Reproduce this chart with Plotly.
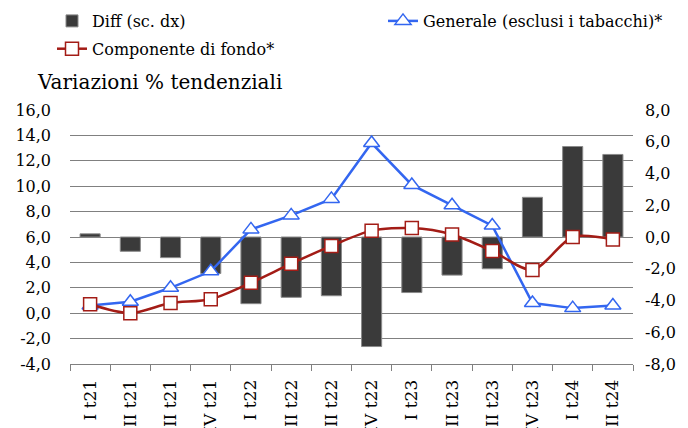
import plotly.graph_objects as go

# quarters on the x axis
categories = [
    "I t21", "II t21", "III t21", "IV t21",
    "I t22", "II t22", "III t22", "IV t22",
    "I t23", "II t23", "III t23", "IV t23",
    "I t24", "II t24",
]

# % changes, left scale
generale = [0.6, 0.9, 2.0, 3.3, 6.6, 7.7, 9.0, 13.4, 10.1, 8.5, 6.9, 0.8, 0.4, 0.6]
componente = [0.7, 0.0, 0.8, 1.1, 2.4, 3.9, 5.3, 6.5, 6.7, 6.2, 4.9, 3.4, 6.0, 5.8]

# difference, right scale
diff = [0.2, -0.9, -1.3, -2.3, -4.2, -3.8, -3.7, -6.9, -3.5, -2.4, -2.0, 2.5, 5.7, 5.2]

# axis ticks (italian decimal comma)
left_ticks = [-4, -2, 0, 2, 4, 6, 8, 10, 12, 14, 16]
right_ticks = [-8, -6, -4, -2, 0, 2, 4, 6, 8]
left_labels = [f"{v:.1f}".replace(".", ",") for v in left_ticks]
right_labels = [f"{v:.1f}".replace(".", ",") for v in right_ticks]

FONT = "DejaVu Serif"
BLUE = "#3366f0"
RED = "#a31c16"
GRID = "#808080"

# the page body has an 8px margin, so the figure is 8px smaller than the window
W, H = 680, 420
L, R, T, B = 62, 55, 102, 64
PW, PH = W - L - R, H - T - B

fig = go.Figure()

# bars on the primary y (drawn on the right) so the lines end up on top
fig.add_trace(go.Bar(
    x=categories, y=diff, name="Diff (sc. dx)",
    marker=dict(color="#3a3a3a", line=dict(color="#8a8a8a", width=1)),
    width=0.5, yaxis="y", legend="legend", legendgroup="a",
))
fig.add_trace(go.Scatter(
    x=categories, y=generale, name="Generale (esclusi i tabacchi)*",
    mode="lines+markers", yaxis="y2", legend="legend2",
    line=dict(color=BLUE, width=2.5),
    marker=dict(symbol="triangle-up", size=14, color="white",
                line=dict(color=BLUE, width=1.5)),
))
fig.add_trace(go.Scatter(
    x=categories, y=componente, name="Componente di fondo*",
    mode="lines+markers", yaxis="y2", legend="legend", legendgroup="b",
    line=dict(color=RED, width=2.5, shape="spline", smoothing=0.8),
    marker=dict(symbol="square", size=13, color="white",
                line=dict(color=RED, width=1.5)),
))

fig.update_layout(
    width=W, height=H,
    margin=dict(l=L, r=R, t=T, b=B, autoexpand=False),
    paper_bgcolor="white", plot_bgcolor="white",
    font=dict(family=FONT, size=17, color="black"),
    xaxis=dict(
        type="category", range=[-0.5, 13.5],
        showline=True, linecolor=GRID, linewidth=1,
        ticks="outside", tickson="boundaries", ticklen=6, tickcolor=GRID,
        tickangle=-90, tickfont=dict(size=17), ticklabelstandoff=8,
        showgrid=False, automargin=False,
    ),
    yaxis=dict(
        side="right", range=[-8, 8],
        tickmode="array", tickvals=right_ticks, ticktext=right_labels,
        tickfont=dict(size=16),
        showgrid=False, zeroline=False, showline=False,
        ticklabelstandoff=11, automargin=False,
    ),
    yaxis2=dict(
        overlaying="y", side="left", range=[-4, 16],
        tickmode="array", tickvals=left_ticks, ticktext=left_labels,
        tickfont=dict(size=16),
        showgrid=True, gridcolor=GRID, gridwidth=1,
        zeroline=False, showline=False,
        ticklabelstandoff=18, automargin=False,
    ),
    legend=dict(
        x=(44 - L) / PW, y=1 + (T + 4) / PH,
        xanchor="left", yanchor="top", orientation="v",
        font=dict(size=16), tracegroupgap=4, bgcolor="rgba(0,0,0,0)",
    ),
    legend2=dict(
        x=(375 - L) / PW, y=1 + (T + 4) / PH,
        xanchor="left", yanchor="top", orientation="v",
        font=dict(size=16), bgcolor="rgba(0,0,0,0)",
    ),
    annotations=[dict(
        text="Variazioni % tendenziali", xref="paper", yref="paper",
        x=(27 - L) / PW, y=(H - B - 74) / PH, xanchor="left", yanchor="middle",
        showarrow=False, font=dict(size=20),
    )],
)

fig.write_html("out.html")
